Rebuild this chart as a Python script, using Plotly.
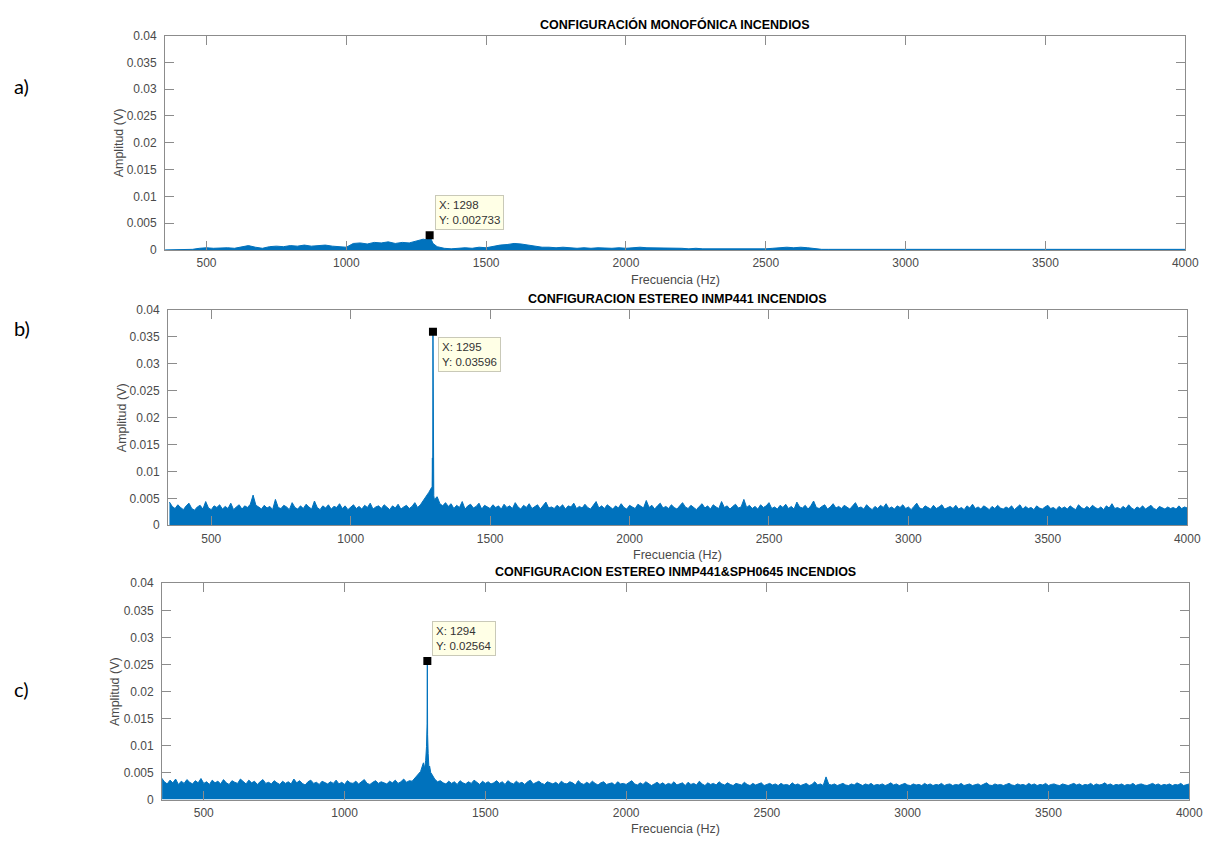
import numpy as np
import plotly.graph_objects as go

# ---------------------------------------------------------------------------
# Espectros de amplitud (valores en unidades de 1e-4 V)
# ---------------------------------------------------------------------------

# a) Configuración monofónica: rejilla de 25 Hz desde 350 Hz
f0_a, df_a = 350, 25
amp_a = [
    0, 0, 0, 0, 1,                                  # 350-450
    3, 4, 3, 4, 4, 3, 5,                            # 475-625
    8, 5, 3,                                        # 650-700
    6, 7, 6, 8, 7, 9, 7, 8, 9, 7, 6, 5,             # 725-1000
    12, 13, 11, 14, 13, 15, 12, 14, 13, 16,         # 1025-1250
    20, 24, 6, 3, 2, 3,                             # 1275-1400
    4, 3, 5, 4,                                     # 1425-1500
    7, 9, 10, 12, 11, 9, 6, 5,                      # 1525-1700
    5, 4, 5, 4, 3, 4, 3, 4, 3, 3, 4, 3,             # 1725-2000
    4, 5, 4, 4, 3, 4, 3, 3, 2, 3, 2, 2, 2, 1, 2, 2, # 2025-2400
    1, 1, 1, 2, 3, 4,                               # 2425-2550
    5, 4, 5, 4, 2, 1,                               # 2575-2700
    1, 1, 2, 1, 1, 1, 1, 2, 1, 1, 1, 1, 1, 1, 2, 1, # 2725-3100
    1, 1, 1, 1, 1, 2, 1, 1, 1, 1, 1, 1, 1, 1, 1, 2, # 3125-3500
    1, 1, 1, 1, 1, 1, 2, 1, 1, 1, 1, 1, 1, 1, 1, 1, # 3525-3900
    1, 1, 1, 1,                                     # 3925-4000
]
pico_a_f = [1285, 1292, 1298, 1310]
pico_a_v = [0.0019, 0.0023, 0.002733, 0.0012]

# b) Configuración estéreo INMP441: rejilla de 10 Hz desde 350 Hz
f0_b, df_b = 350, 10
amp_b = [
    43, 35, 31, 38, 33, 29, 36, 41, 31, 28, 34, 37, 30, 44, 32, 29, 36, 33, 38, 30,
    35, 31, 41, 29, 34, 38, 30, 36, 33, 39, 56, 37, 34, 30, 37, 32, 35, 29, 48, 33,
    31, 37, 34, 29, 42, 33, 30, 36, 31, 39, 34, 30, 45, 33, 29, 36, 32, 38, 30, 35,
    33, 40, 31, 36, 29, 34, 38, 31, 35, 30, 37, 33, 41, 30, 34, 36, 31, 38, 33, 29,
    36, 32, 39, 30, 34, 37, 31, 35, 42, 33, 38, 45, 52, 61, 70, 48, 53, 40, 36, 42,
    35, 40, 31, 37, 33, 44, 30, 36, 39, 32, 35, 41, 30, 37, 34, 31, 38, 33, 36, 30,
    39, 33, 36, 31, 42, 34, 30, 37, 33, 40, 31, 35, 38, 30, 36, 43, 32, 34, 31, 37,
    33, 38, 30, 36, 34, 41, 31, 35, 32, 39, 33, 30, 37, 44, 32, 36, 31, 38, 34, 30,
    36, 32, 40, 33, 30, 37, 34, 31, 39, 35, 32, 46, 33, 37, 30, 36, 41, 32, 35, 31,
    38, 33, 30, 36, 42, 34, 31, 37, 33, 29, 35, 40, 32, 36, 30, 38, 34, 31, 44, 33,
    36, 30, 35, 39, 32, 34, 48, 33, 37, 31, 35, 30, 38, 33, 36, 42, 31, 34, 30, 37,
    33, 39, 31, 35, 30, 43, 34, 32, 37, 30, 36, 45, 33, 31, 35, 38, 30, 34, 40, 32,
    35, 31, 37, 33, 30, 36, 42, 32, 34, 30, 38, 33, 29, 35, 31, 37, 33, 40, 31, 34,
    30, 36, 33, 38, 31, 34, 29, 35, 41, 32, 30, 36, 33, 30, 37, 31, 34, 38, 30, 33,
    35, 31, 37, 30, 33, 29, 36, 32, 39, 31, 34, 30, 36, 33, 29, 35, 31, 37, 32, 30,
    34, 31, 36, 29, 33, 38, 30, 35, 31, 33, 29, 36, 32, 30, 34, 37, 31, 33, 29, 35,
    31, 34, 30, 36, 32, 29, 38, 33, 30, 35, 31, 37, 33, 30, 34, 29, 36, 32, 40, 31,
    33, 30, 35, 31, 38, 32, 29, 34, 31, 36, 30, 33, 37, 31, 29, 35, 32, 30, 34, 31,
    33, 30, 36, 31, 34, 32,
]
pico_b_f = [1292, 1293, 1294, 1295, 1296, 1298]
pico_b_v = [0.0068, 0.0125, 0.0060, 0.03596, 0.0065, 0.0055]

# c) Configuración estéreo INMP441&SPH0645: rejilla de 10 Hz desde 350 Hz
f0_c, df_c = 350, 10
amp_c = [
    40, 33, 29, 36, 31, 38, 28, 34, 30, 37, 32, 29, 35, 31, 39, 30, 33, 28, 36, 31,
    34, 29, 37, 31, 28, 35, 32, 30, 38, 33, 29, 36, 31, 34, 28, 33, 37, 30, 32, 29,
    35, 31, 28, 34, 30, 33, 29, 38, 31, 35, 30, 27, 33, 36, 30, 32, 28, 34, 31, 29,
    33, 30, 36, 29, 32, 28, 35, 31, 30, 34, 29, 33, 37, 30, 28, 32, 35, 30, 33, 31,
    29, 34, 31, 36, 30, 33, 38, 32, 35, 34, 40, 44, 52, 68, 90, 55, 47, 38, 33, 35,
    31, 29, 34, 30, 33, 28, 35, 31, 29, 33, 30, 36, 32, 28, 34, 30, 33, 29, 31, 35,
    30, 33, 28, 35, 31, 29, 34, 30, 32, 28, 33, 36, 29, 31, 34, 30, 28, 33, 31, 29,
    32, 28, 34, 30, 29, 33, 31, 27, 35, 30, 28, 32, 29, 34, 30, 27, 31, 33, 28, 30,
    31, 27, 33, 29, 30, 28, 32, 35, 29, 27, 31, 28, 33, 30, 26, 29, 32, 28, 31, 27,
    30, 28, 33, 27, 29, 31, 26, 32, 28, 30, 27, 34, 29, 26, 31, 28, 30, 27, 33, 29,
    27, 31, 28, 26, 30, 29, 27, 32, 28, 26, 30, 27, 29, 31, 26, 28, 30, 27, 29, 26,
    30, 27, 28, 26, 31, 27, 29, 26, 28, 30, 26, 28, 33, 27, 29, 26, 42, 28, 27, 29,
    26, 28, 30, 27, 26, 29, 27, 31, 28, 26, 29, 27, 30, 26, 28, 27, 29, 26, 28, 31,
    27, 29, 26, 28, 30, 27, 26, 29, 27, 28, 26, 30, 27, 29, 26, 28, 27, 30, 26, 28,
    29, 26, 28, 27, 30, 26, 28, 29, 26, 27, 29, 26, 28, 31, 27, 26, 29, 27, 28, 26,
    28, 30, 27, 26, 29, 27, 28, 26, 30, 27, 29, 26, 28, 27, 30, 26, 28, 29, 27, 26,
    29, 27, 26, 28, 30, 27, 29, 26, 28, 27, 30, 26, 29, 27, 28, 31, 27, 29, 26, 28,
    27, 29, 26, 28, 27, 30, 26, 28, 29, 27, 26, 28, 30, 27, 29, 26, 28, 27, 29, 26,
    28, 27, 30, 26, 28, 29,
]
pico_c_f = [1284, 1288, 1291, 1293, 1294, 1295, 1297, 1302, 1306]
pico_c_v = [0.0058, 0.0072, 0.0098, 0.0140, 0.02564, 0.0120, 0.0085, 0.0062, 0.0050]

titulos = [
    "CONFIGURACIÓN MONOFÓNICA INCENDIOS",
    "CONFIGURACION ESTEREO INMP441 INCENDIOS",
    "CONFIGURACION ESTEREO INMP441&SPH0645 INCENDIOS",
]
etiquetas_panel = ["a)", "b)", "c)"]

# marcadores de dato (frecuencia, amplitud)
cursores = [(1298, 0.002733), (1295, 0.03596), (1294, 0.02564)]

x_ticks = [500, 1000, 1500, 2000, 2500, 3000, 3500, 4000]
y_ticks = [0, 0.005, 0.01, 0.015, 0.02, 0.025, 0.03, 0.035, 0.04]
y_ticktext = ["0", "0.005", "0.01", "0.015", "0.02", "0.025", "0.03", "0.035", "0.04"]


def serie(f0, df, amp, pf, pv):
    f = f0 + df * np.arange(len(amp))
    v = np.asarray(amp, dtype=float) * 1e-4
    f = np.concatenate([f, pf])
    v = np.concatenate([v, pv])
    orden = np.argsort(f, kind="stable")
    return f[orden], v[orden]


series = [
    serie(f0_a, df_a, amp_a, pico_a_f, pico_a_v),
    serie(f0_b, df_b, amp_b, pico_b_f, pico_b_v),
    serie(f0_c, df_c, amp_c, pico_c_f, pico_c_v),
]

# ---------------------------------------------------------------------------
# Disposición (píxeles de la página 1223 x 843)
# ---------------------------------------------------------------------------
W, H = 1223, 843
paneles = [
    dict(x0=167, x1=1199, y0=29, y1=247, xmin=352),
    dict(x0=170, x1=1201, y0=308, y1=527, xmin=345),
    dict(x0=164, x1=1203, y0=586, y1=806, xmin=352),
]
etiqueta_y_px = [80, 326, 694]

AZUL = "#0072BD"
GRIS_EJE = "#8c8c8c"
TXT = "#4a4a4a"
FUENTE = "Liberation Sans, Arial, sans-serif"

fig = go.Figure()
layout = dict(
    width=W, height=H,
    margin=dict(l=0, r=0, t=0, b=0),
    paper_bgcolor="white", plot_bgcolor="white",
    showlegend=False,
    font=dict(family=FUENTE, size=12, color=TXT),
)
anotaciones = []

for i, (p, (f, v)) in enumerate(zip(paneles, series)):
    n = "" if i == 0 else str(i + 1)
    xa, ya = "x" + n, "y" + n

    fig.add_trace(go.Scatter(
        x=f, y=v, mode="lines", xaxis=xa, yaxis=ya,
        line=dict(color=AZUL, width=1), fill="tozeroy", fillcolor=AZUL,
        hoverinfo="skip",
    ))
    cx, cy = cursores[i]
    fig.add_trace(go.Scatter(
        x=[cx], y=[cy], mode="markers", xaxis=xa, yaxis=ya,
        marker=dict(symbol="square", size=8, color="black"),
        hoverinfo="skip",
    ))

    dom_x = [p["x0"] / W, p["x1"] / W]
    dom_y = [1 - p["y1"] / H, 1 - p["y0"] / H]
    comun = dict(
        showline=True, linecolor=GRIS_EJE, linewidth=1, mirror="ticks",
        ticks="inside", tickcolor=GRIS_EJE, tickwidth=1, ticklen=9,
        showgrid=False, zeroline=False,
        tickfont=dict(family=FUENTE, size=12, color=TXT),
        fixedrange=True,
    )
    layout["xaxis" + n] = dict(
        comun, domain=dom_x, anchor=ya, range=[p["xmin"], 4000],
        tickvals=x_ticks, ticktext=[str(t) for t in x_ticks],
        ticklabelstandoff=2,
    )
    layout["yaxis" + n] = dict(
        comun, domain=dom_y, anchor=xa, range=[0, 0.04],
        tickvals=y_ticks, ticktext=y_ticktext,
        ticklabelstandoff=5,
    )

    xc = (p["x0"] + p["x1"]) / 2 / W
    # título del panel
    anotaciones.append(dict(
        text="<b>" + titulos[i] + "</b>", xref="paper", yref="paper",
        x=xc, y=1 - (p["y0"] - 2) / H, xanchor="center", yanchor="bottom",
        showarrow=False, font=dict(family=FUENTE, size=12.5, color="black"),
    ))
    # rótulo del eje x
    anotaciones.append(dict(
        text="Frecuencia (Hz)", xref="paper", yref="paper",
        x=xc, y=1 - (p["y1"] + 21) / H, xanchor="center", yanchor="top",
        showarrow=False, font=dict(family=FUENTE, size=12.5, color=TXT),
    ))
    # rótulo del eje y
    anotaciones.append(dict(
        text="Amplitud (V)", xref="paper", yref="paper",
        x=(p["x0"] - 47) / W, y=1 - (p["y0"] + p["y1"]) / 2 / H,
        xanchor="center", yanchor="middle", textangle=-90,
        showarrow=False, font=dict(family=FUENTE, size=12.5, color=TXT),
    ))
    # letra del panel
    anotaciones.append(dict(
        text=etiquetas_panel[i], xref="paper", yref="paper",
        x=12 / W, y=1 - etiqueta_y_px[i] / H, xanchor="left", yanchor="middle",
        showarrow=False, font=dict(family="Lato, Carlito, sans-serif", size=20, color="black"),
    ))
    # cuadro del cursor de datos
    arriba = i == 1
    anotaciones.append(dict(
        text=f"X: {cx}<br>Y: {cy:.4g}" if i != 0 else f"X: {cx}<br>Y: {cy}",
        xref=xa, yref=ya, x=cx, y=cy,
        xanchor="left", yanchor="top" if arriba else "bottom",
        xshift=5, yshift=-5 if arriba else 5,
        align="left", showarrow=False,
        bgcolor="#FFFFE6", bordercolor="#C9C9B8", borderwidth=1, borderpad=3,
        font=dict(family=FUENTE, size=11.5, color="#333333"),
    ))

layout["annotations"] = anotaciones
fig.update_layout(**layout)
fig.write_html("out.html")
